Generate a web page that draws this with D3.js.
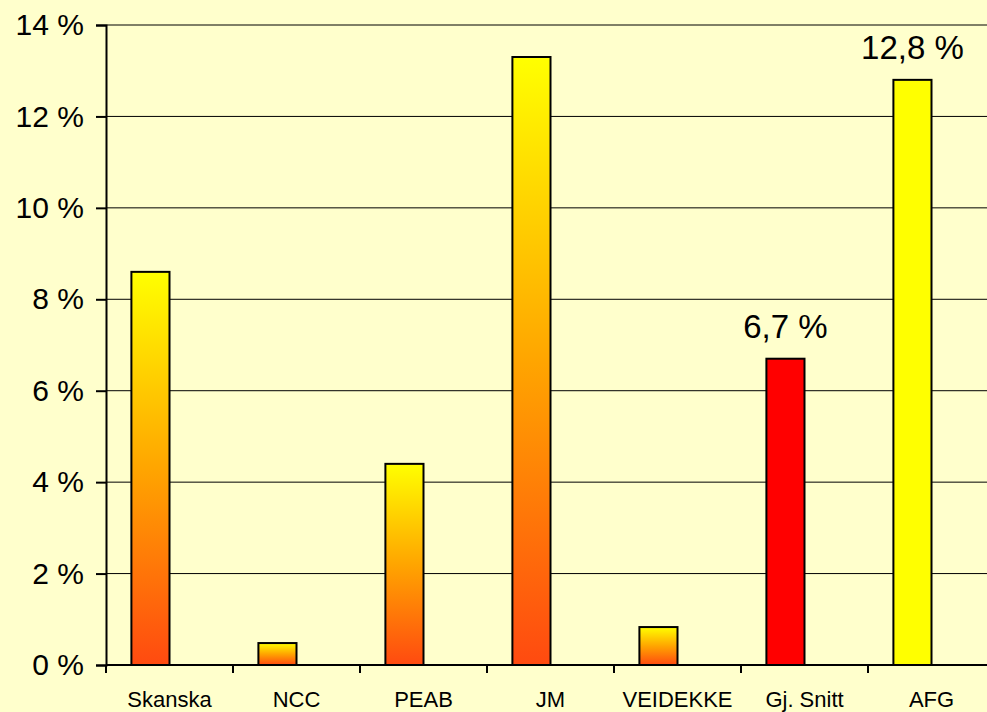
<!DOCTYPE html>
<html>
<head>
<meta charset="utf-8">
<script src="https://cdnjs.cloudflare.com/ajax/libs/d3/7.8.5/d3.min.js"></script>
<style>
	html, body { margin: 0; padding: 0; background: #FFFFCC; }
	svg { display: block; font-family: "Liberation Sans", Arial, sans-serif; }
</style>
</head>
<body>
<svg></svg>
<script>
const categories = ['Skanska', 'NCC', 'PEAB', 'JM', 'VEIDEKKE', 'Gj. Snitt', 'AFG'];
const values = [8.6, 0.48, 4.4, 13.3, 0.83, 6.7, 12.8];
const fills = ['grad', 'grad', 'grad', 'grad', 'grad', '#FF0000', '#FFFF00'];
const labelled = ['6,7 %', '12,8 %'];
const labelIndex = [5, 6];
const yTicks = [0, 2, 4, 6, 8, 10, 12, 14];

const width = 987;
const height = 712;

const svg = d3.select('svg')
	.attr('width', width)
	.attr('height', height);

const defs = svg.append('defs');
const grad = defs.append('linearGradient')
	.attr('id', 'barGrad')
	.attr('x1', 0).attr('y1', 0)
	.attr('x2', 0).attr('y2', 1);
grad.append('stop').attr('offset', '0%').attr('stop-color', '#FFFF00');
grad.append('stop').attr('offset', '50%').attr('stop-color', '#FFA500');
grad.append('stop').attr('offset', '100%').attr('stop-color', '#FF4A10');

const x = d3.scaleBand()
	.domain(categories)
	.range([106, 995]);

const y = d3.scaleLinear()
	.domain([0, 14])
	.range([665, 25]);

// bar sits in the left half of a two-slot cluster, like the excel original
const gap = 0.4;
const barW = x.bandwidth() * (1 - gap) / 2;
const barOff = x.bandwidth() * gap / 2;

// gridlines
svg.append('g')
	.selectAll('line')
	.data(yTicks.filter(d => d > 0))
	.enter().append('line')
		.attr('x1', 106)
		.attr('x2', width)
		.attr('y1', d => y(d))
		.attr('y2', d => y(d))
		.attr('stroke', '#000')
		.attr('stroke-width', 1);

// y axis
const yAxis = svg.append('g')
	.attr('transform', 'translate(106,0)')
	.call(d3.axisLeft(y).tickValues(yTicks).tickSize(10).tickPadding(12).tickFormat(d => d + ' %'));
yAxis.select('.domain').attr('stroke-width', 2);
yAxis.selectAll('.tick line').attr('stroke-width', 2);
yAxis.selectAll('text')
	.attr('font-size', 30)
	.attr('fill', '#000')
	.attr('font-family', '"Liberation Sans", Arial, sans-serif');

// bars
svg.append('g')
	.selectAll('rect')
	.data(values)
	.enter().append('rect')
		.attr('x', (d, i) => x(categories[i]) + barOff)
		.attr('y', d => y(d))
		.attr('width', barW)
		.attr('height', d => y(0) - y(d))
		.attr('fill', (d, i) => fills[i] == 'grad' ? 'url(#barGrad)' : fills[i])
		.attr('stroke', '#000')
		.attr('stroke-width', 2);

// x axis
const xAxis = svg.append('g')
	.attr('transform', 'translate(0,665)');
xAxis.append('line')
	.attr('x1', 106).attr('x2', width)
	.attr('stroke', '#000').attr('stroke-width', 2);
xAxis.selectAll('.tk')
	.data(categories)
	.enter().append('line')
		.attr('class', 'tk')
		.attr('x1', d => x(d)).attr('x2', d => x(d))
		.attr('y1', 0).attr('y2', 8)
		.attr('stroke', '#000').attr('stroke-width', 2);
xAxis.selectAll('text')
	.data(categories)
	.enter().append('text')
		.attr('x', d => x(d) + x.bandwidth() / 2)
		.attr('y', 42)
		.attr('text-anchor', 'middle')
		.attr('font-size', 22)
		.text(d => d);

// data labels
svg.append('g')
	.selectAll('text')
	.data(labelIndex)
	.enter().append('text')
		.attr('x', i => x(categories[i]) + barOff + barW / 2)
		.attr('y', i => y(values[i]) - 21)
		.attr('text-anchor', 'middle')
		.attr('font-size', 33)
		.text((i, k) => labelled[k]);
</script>
</body>
</html>
